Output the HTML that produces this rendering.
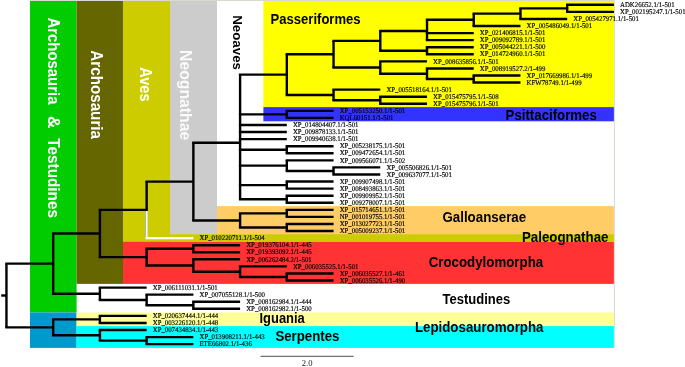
<!DOCTYPE html>
<html lang="en"><head><meta charset="utf-8"><title>Phylogenetic tree</title>
<style>
html,body{margin:0;padding:0;background:#fff;}
body{width:685px;height:367px;overflow:hidden;}
svg{display:block;will-change:transform;}
</style></head><body>
<svg width="685" height="367" viewBox="0 0 685 367">
<rect x="30" y="1" width="583.9" height="346.9" fill="#fff"/>
<path d="M30 0.5H614.4V347.9" fill="none" stroke="#d6dad0" stroke-width="1"/>
<rect x="30" y="1" width="46.60" height="311.40" fill="#00cc00"/>
<rect x="30" y="312.4" width="46.60" height="35.50" fill="#0099cc"/>
<rect x="76.6" y="1" width="46.40" height="282.90" fill="#666600"/>
<rect x="123" y="1" width="47.00" height="240.80" fill="#cccc00"/>
<rect x="123" y="234.1" width="490.90" height="7.70" fill="#cccc00"/>
<rect x="170" y="1" width="47.00" height="233.10" fill="#cccccc"/>
<rect x="263.4" y="1" width="350.50" height="106.10" fill="#ffff00"/>
<rect x="263.4" y="107.1" width="350.50" height="14.20" fill="#3333ff"/>
<rect x="217" y="206.1" width="396.90" height="28.00" fill="#ffcc66"/>
<rect x="123" y="241.8" width="490.90" height="42.10" fill="#ff3333"/>
<rect x="76.6" y="312.4" width="537.30" height="13.70" fill="#ffff99"/>
<rect x="76.6" y="326.1" width="537.30" height="21.80" fill="#00ffff"/>
<g stroke-width="2.4" stroke-linecap="butt" fill="none">
<line x1="1.2" y1="295.50" x2="6.45" y2="295.50" stroke="#000" stroke-linecap="butt"/>
<line x1="566.01" y1="4.80" x2="613.94" y2="4.80" stroke="#000"/>
<line x1="566.01" y1="11.87" x2="613.94" y2="11.87" stroke="#000"/>
<line x1="567.21" y1="4.80" x2="567.21" y2="11.87" stroke="#000"/>
<line x1="519.28" y1="8.34" x2="567.21" y2="8.34" stroke="#000"/>
<line x1="519.28" y1="18.94" x2="567.21" y2="18.94" stroke="#000"/>
<line x1="520.48" y1="8.34" x2="520.48" y2="18.94" stroke="#000"/>
<line x1="472.55" y1="13.64" x2="520.48" y2="13.64" stroke="#000"/>
<line x1="472.55" y1="26.01" x2="520.48" y2="26.01" stroke="#000"/>
<line x1="473.75" y1="13.64" x2="473.75" y2="26.01" stroke="#000"/>
<line x1="425.82" y1="19.82" x2="473.75" y2="19.82" stroke="#000"/>
<line x1="425.82" y1="33.08" x2="473.75" y2="33.08" stroke="#000"/>
<line x1="425.82" y1="40.15" x2="473.75" y2="40.15" stroke="#000"/>
<line x1="427.02" y1="19.82" x2="427.02" y2="40.15" stroke="#000"/>
<line x1="379.09" y1="31.02" x2="427.02" y2="31.02" stroke="#000"/>
<line x1="425.82" y1="47.22" x2="473.75" y2="47.22" stroke="#000"/>
<line x1="425.82" y1="54.29" x2="473.75" y2="54.29" stroke="#000"/>
<line x1="427.02" y1="47.22" x2="427.02" y2="54.29" stroke="#000"/>
<line x1="379.09" y1="50.75" x2="427.02" y2="50.75" stroke="#000"/>
<line x1="380.29" y1="31.02" x2="380.29" y2="50.75" stroke="#000"/>
<line x1="332.36" y1="40.89" x2="380.29" y2="40.89" stroke="#000"/>
<line x1="379.09" y1="61.36" x2="427.02" y2="61.36" stroke="#000"/>
<line x1="425.82" y1="68.43" x2="473.75" y2="68.43" stroke="#000"/>
<line x1="472.55" y1="75.50" x2="520.48" y2="75.50" stroke="#000"/>
<line x1="472.55" y1="82.57" x2="520.48" y2="82.57" stroke="#000"/>
<line x1="473.75" y1="75.50" x2="473.75" y2="82.57" stroke="#000"/>
<line x1="425.82" y1="79.03" x2="473.75" y2="79.03" stroke="#000"/>
<line x1="427.02" y1="68.43" x2="427.02" y2="79.03" stroke="#000"/>
<line x1="379.09" y1="73.73" x2="427.02" y2="73.73" stroke="#000"/>
<line x1="380.29" y1="61.36" x2="380.29" y2="73.73" stroke="#000"/>
<line x1="332.36" y1="67.55" x2="380.29" y2="67.55" stroke="#000"/>
<line x1="333.56" y1="40.89" x2="333.56" y2="67.55" stroke="#000"/>
<line x1="285.63" y1="54.22" x2="333.56" y2="54.22" stroke="#000"/>
<line x1="332.36" y1="89.64" x2="380.29" y2="89.64" stroke="#000"/>
<line x1="379.09" y1="96.71" x2="427.02" y2="96.71" stroke="#000"/>
<line x1="379.09" y1="103.78" x2="427.02" y2="103.78" stroke="#000"/>
<line x1="380.29" y1="96.71" x2="380.29" y2="103.78" stroke="#000"/>
<line x1="332.36" y1="100.25" x2="380.29" y2="100.25" stroke="#000"/>
<line x1="333.56" y1="89.64" x2="333.56" y2="100.25" stroke="#000"/>
<line x1="285.63" y1="94.94" x2="333.56" y2="94.94" stroke="#000"/>
<line x1="286.83" y1="54.22" x2="286.83" y2="94.94" stroke="#000"/>
<line x1="238.90" y1="74.58" x2="286.83" y2="74.58" stroke="#000"/>
<line x1="285.63" y1="110.85" x2="333.56" y2="110.85" stroke="#000"/>
<line x1="285.63" y1="117.92" x2="333.56" y2="117.92" stroke="#000"/>
<line x1="286.83" y1="110.85" x2="286.83" y2="117.92" stroke="#000"/>
<line x1="238.90" y1="114.39" x2="286.83" y2="114.39" stroke="#000"/>
<line x1="238.90" y1="124.99" x2="286.83" y2="124.99" stroke="#000"/>
<line x1="238.90" y1="132.06" x2="286.83" y2="132.06" stroke="#000"/>
<line x1="238.90" y1="139.13" x2="286.83" y2="139.13" stroke="#000"/>
<line x1="285.63" y1="146.20" x2="333.56" y2="146.20" stroke="#000"/>
<line x1="285.63" y1="153.27" x2="333.56" y2="153.27" stroke="#000"/>
<line x1="286.83" y1="146.20" x2="286.83" y2="153.27" stroke="#000"/>
<line x1="238.90" y1="149.74" x2="286.83" y2="149.74" stroke="#000"/>
<line x1="285.63" y1="160.34" x2="333.56" y2="160.34" stroke="#000"/>
<line x1="332.36" y1="167.41" x2="380.29" y2="167.41" stroke="#000"/>
<line x1="332.36" y1="174.48" x2="380.29" y2="174.48" stroke="#000"/>
<line x1="333.56" y1="167.41" x2="333.56" y2="174.48" stroke="#000"/>
<line x1="285.63" y1="170.95" x2="333.56" y2="170.95" stroke="#000"/>
<line x1="286.83" y1="160.34" x2="286.83" y2="170.95" stroke="#000"/>
<line x1="238.90" y1="165.64" x2="286.83" y2="165.64" stroke="#000"/>
<line x1="285.63" y1="181.55" x2="333.56" y2="181.55" stroke="#000"/>
<line x1="285.63" y1="188.62" x2="333.56" y2="188.62" stroke="#000"/>
<line x1="286.83" y1="181.55" x2="286.83" y2="188.62" stroke="#000"/>
<line x1="238.90" y1="185.09" x2="286.83" y2="185.09" stroke="#000"/>
<line x1="285.63" y1="195.69" x2="333.56" y2="195.69" stroke="#000"/>
<line x1="285.63" y1="202.76" x2="333.56" y2="202.76" stroke="#000"/>
<line x1="286.83" y1="195.69" x2="286.83" y2="202.76" stroke="#000"/>
<line x1="238.90" y1="199.23" x2="286.83" y2="199.23" stroke="#000"/>
<line x1="240.10" y1="74.58" x2="240.10" y2="199.23" stroke="#000"/>
<line x1="192.17" y1="142.76" x2="240.10" y2="142.76" stroke="#000"/>
<line x1="285.63" y1="209.83" x2="333.56" y2="209.83" stroke="#000"/>
<line x1="285.63" y1="216.90" x2="333.56" y2="216.90" stroke="#000"/>
<line x1="286.83" y1="209.83" x2="286.83" y2="216.90" stroke="#000"/>
<line x1="238.90" y1="213.37" x2="286.83" y2="213.37" stroke="#000"/>
<line x1="285.63" y1="223.97" x2="333.56" y2="223.97" stroke="#000"/>
<line x1="285.63" y1="231.04" x2="333.56" y2="231.04" stroke="#000"/>
<line x1="286.83" y1="223.97" x2="286.83" y2="231.04" stroke="#000"/>
<line x1="238.90" y1="227.51" x2="286.83" y2="227.51" stroke="#000"/>
<line x1="240.10" y1="213.37" x2="240.10" y2="227.51" stroke="#000"/>
<line x1="192.17" y1="220.44" x2="240.10" y2="220.44" stroke="#000"/>
<line x1="193.37" y1="142.76" x2="193.37" y2="220.44" stroke="#000"/>
<line x1="145.44" y1="181.60" x2="193.37" y2="181.60" stroke="#000"/>
<line x1="146.64" y1="181.60" x2="146.64" y2="238.11" stroke="#000"/>
<line x1="98.71" y1="209.85" x2="146.64" y2="209.85" stroke="#000"/>
<line x1="192.17" y1="245.18" x2="240.10" y2="245.18" stroke="#000"/>
<line x1="192.17" y1="252.25" x2="240.10" y2="252.25" stroke="#000"/>
<line x1="193.37" y1="245.18" x2="193.37" y2="252.25" stroke="#000"/>
<line x1="145.44" y1="248.72" x2="193.37" y2="248.72" stroke="#000"/>
<line x1="192.17" y1="259.32" x2="240.10" y2="259.32" stroke="#000"/>
<line x1="238.90" y1="266.39" x2="286.83" y2="266.39" stroke="#000"/>
<line x1="285.63" y1="273.46" x2="333.56" y2="273.46" stroke="#000"/>
<line x1="285.63" y1="280.53" x2="333.56" y2="280.53" stroke="#000"/>
<line x1="286.83" y1="273.46" x2="286.83" y2="280.53" stroke="#000"/>
<line x1="238.90" y1="277.00" x2="286.83" y2="277.00" stroke="#000"/>
<line x1="240.10" y1="266.39" x2="240.10" y2="277.00" stroke="#000"/>
<line x1="192.17" y1="271.69" x2="240.10" y2="271.69" stroke="#000"/>
<line x1="193.37" y1="259.32" x2="193.37" y2="271.69" stroke="#000"/>
<line x1="145.44" y1="265.51" x2="193.37" y2="265.51" stroke="#000"/>
<line x1="146.64" y1="248.72" x2="146.64" y2="265.51" stroke="#000"/>
<line x1="98.71" y1="257.11" x2="146.64" y2="257.11" stroke="#000"/>
<line x1="99.91" y1="209.85" x2="99.91" y2="257.11" stroke="#000"/>
<line x1="51.98" y1="233.48" x2="99.91" y2="233.48" stroke="#000"/>
<line x1="98.71" y1="287.60" x2="146.64" y2="287.60" stroke="#000"/>
<line x1="145.44" y1="294.67" x2="193.37" y2="294.67" stroke="#000"/>
<line x1="192.17" y1="301.74" x2="240.10" y2="301.74" stroke="#000"/>
<line x1="192.17" y1="308.81" x2="240.10" y2="308.81" stroke="#000"/>
<line x1="193.37" y1="301.74" x2="193.37" y2="308.81" stroke="#000"/>
<line x1="145.44" y1="305.27" x2="193.37" y2="305.27" stroke="#000"/>
<line x1="146.64" y1="294.67" x2="146.64" y2="305.27" stroke="#000"/>
<line x1="98.71" y1="299.97" x2="146.64" y2="299.97" stroke="#000"/>
<line x1="99.91" y1="287.60" x2="99.91" y2="299.97" stroke="#000"/>
<line x1="51.98" y1="293.79" x2="99.91" y2="293.79" stroke="#000"/>
<line x1="53.18" y1="233.48" x2="53.18" y2="293.79" stroke="#000"/>
<line x1="5.25" y1="263.63" x2="53.18" y2="263.63" stroke="#000"/>
<line x1="98.71" y1="315.88" x2="146.64" y2="315.88" stroke="#000"/>
<line x1="98.71" y1="322.95" x2="146.64" y2="322.95" stroke="#000"/>
<line x1="99.91" y1="315.88" x2="99.91" y2="322.95" stroke="#000"/>
<line x1="51.98" y1="319.42" x2="99.91" y2="319.42" stroke="#000"/>
<line x1="98.71" y1="330.02" x2="146.64" y2="330.02" stroke="#000"/>
<line x1="145.44" y1="337.09" x2="193.37" y2="337.09" stroke="#000"/>
<line x1="145.44" y1="344.16" x2="193.37" y2="344.16" stroke="#000"/>
<line x1="146.64" y1="337.09" x2="146.64" y2="344.16" stroke="#000"/>
<line x1="98.71" y1="340.62" x2="146.64" y2="340.62" stroke="#000"/>
<line x1="99.91" y1="330.02" x2="99.91" y2="340.62" stroke="#000"/>
<line x1="51.98" y1="335.32" x2="99.91" y2="335.32" stroke="#000"/>
<line x1="53.18" y1="319.42" x2="53.18" y2="335.32" stroke="#000"/>
<line x1="5.25" y1="327.37" x2="53.18" y2="327.37" stroke="#000"/>
<line x1="6.45" y1="263.63" x2="6.45" y2="327.37" stroke="#000"/>
<line x1="145.44" y1="238.11" x2="193.37" y2="238.11" stroke="#fff"/>
<line x1="146.64" y1="211.05" x2="146.64" y2="238.11" stroke="#fff"/>
</g>
<g font-family="'Liberation Serif', serif" font-size="7.1" fill="#000" stroke="#000" stroke-width="0.15" style="text-rendering:geometricPrecision">
<text x="620.04" y="7.00" textLength="54.59" lengthAdjust="spacingAndGlyphs">ADK26652.1/1-501</text>
<text x="620.04" y="14.07" textLength="65.55" lengthAdjust="spacingAndGlyphs">XP_002195247.1/1-501</text>
<text x="573.31" y="21.14" textLength="65.55" lengthAdjust="spacingAndGlyphs">XP_005427971.1/1-501</text>
<text x="526.58" y="28.21" textLength="65.55" lengthAdjust="spacingAndGlyphs">XP_005486049.1/1-501</text>
<text x="479.85" y="35.28" textLength="65.55" lengthAdjust="spacingAndGlyphs">XP_021406815.1/1-501</text>
<text x="479.85" y="42.35" textLength="65.55" lengthAdjust="spacingAndGlyphs">XP_009092789.1/1-501</text>
<text x="479.85" y="49.42" textLength="65.55" lengthAdjust="spacingAndGlyphs">XP_005044221.1/1-500</text>
<text x="479.85" y="56.49" textLength="65.55" lengthAdjust="spacingAndGlyphs">XP_014724960.1/1-501</text>
<text x="433.12" y="63.56" textLength="65.55" lengthAdjust="spacingAndGlyphs">XP_008635856.1/1-501</text>
<text x="479.85" y="70.63" textLength="65.55" lengthAdjust="spacingAndGlyphs">XP_008919527.2/1-499</text>
<text x="526.58" y="77.70" textLength="65.55" lengthAdjust="spacingAndGlyphs">XP_017669986.1/1-499</text>
<text x="526.58" y="84.77" textLength="54.96" lengthAdjust="spacingAndGlyphs">KFW78749.1/1-499</text>
<text x="386.39" y="91.84" textLength="65.55" lengthAdjust="spacingAndGlyphs">XP_005518164.1/1-501</text>
<text x="433.12" y="98.91" textLength="65.55" lengthAdjust="spacingAndGlyphs">XP_015475795.1/1-508</text>
<text x="433.12" y="105.98" textLength="65.55" lengthAdjust="spacingAndGlyphs">XP_015475796.1/1-501</text>
<text x="339.66" y="113.05" textLength="65.55" lengthAdjust="spacingAndGlyphs">XP_005153250.1/1-501</text>
<text x="339.66" y="120.12" textLength="53.83" lengthAdjust="spacingAndGlyphs">KQL60151.1/1-501</text>
<text x="292.93" y="127.19" textLength="65.55" lengthAdjust="spacingAndGlyphs">XP_014804407.1/1-501</text>
<text x="292.93" y="134.26" textLength="65.55" lengthAdjust="spacingAndGlyphs">XP_009878133.1/1-501</text>
<text x="292.93" y="141.33" textLength="65.55" lengthAdjust="spacingAndGlyphs">XP_009940638.1/1-501</text>
<text x="339.66" y="148.40" textLength="65.55" lengthAdjust="spacingAndGlyphs">XP_005238175.1/1-501</text>
<text x="339.66" y="155.47" textLength="65.55" lengthAdjust="spacingAndGlyphs">XP_009472654.1/1-501</text>
<text x="339.66" y="162.54" textLength="65.55" lengthAdjust="spacingAndGlyphs">XP_009566071.1/1-502</text>
<text x="386.39" y="169.61" textLength="65.55" lengthAdjust="spacingAndGlyphs">XP_005506826.1/1-501</text>
<text x="386.39" y="176.68" textLength="65.55" lengthAdjust="spacingAndGlyphs">XP_009637077.1/1-501</text>
<text x="339.66" y="183.75" textLength="65.55" lengthAdjust="spacingAndGlyphs">XP_009907498.1/1-501</text>
<text x="339.66" y="190.82" textLength="65.55" lengthAdjust="spacingAndGlyphs">XP_008493863.1/1-501</text>
<text x="339.66" y="197.89" textLength="65.55" lengthAdjust="spacingAndGlyphs">XP_009909952.1/1-501</text>
<text x="339.66" y="204.96" textLength="65.55" lengthAdjust="spacingAndGlyphs">XP_009278007.1/1-501</text>
<text x="339.66" y="212.03" textLength="65.55" lengthAdjust="spacingAndGlyphs">XP_015714651.1/1-501</text>
<text x="339.66" y="219.10" textLength="65.55" lengthAdjust="spacingAndGlyphs">NP_001019755.1/1-501</text>
<text x="339.66" y="226.17" textLength="65.55" lengthAdjust="spacingAndGlyphs">XP_013027723.1/1-501</text>
<text x="339.66" y="233.24" textLength="65.55" lengthAdjust="spacingAndGlyphs">XP_005009237.1/1-501</text>
<text x="199.47" y="240.31" textLength="65.29" lengthAdjust="spacingAndGlyphs">XP_010220711.1/1-504</text>
<text x="246.20" y="247.38" textLength="65.55" lengthAdjust="spacingAndGlyphs">XP_019376104.1/1-445</text>
<text x="246.20" y="254.45" textLength="65.55" lengthAdjust="spacingAndGlyphs">XP_019393092.1/1-445</text>
<text x="246.20" y="261.52" textLength="65.55" lengthAdjust="spacingAndGlyphs">XP_006262484.2/1-501</text>
<text x="292.93" y="268.59" textLength="65.55" lengthAdjust="spacingAndGlyphs">XP_006035525.1/1-501</text>
<text x="339.66" y="275.66" textLength="65.55" lengthAdjust="spacingAndGlyphs">XP_006035527.1/1-461</text>
<text x="339.66" y="282.73" textLength="65.55" lengthAdjust="spacingAndGlyphs">XP_006035526.1/1-490</text>
<text x="152.74" y="289.80" textLength="65.04" lengthAdjust="spacingAndGlyphs">XP_006111031.1/1-501</text>
<text x="199.47" y="296.87" textLength="65.55" lengthAdjust="spacingAndGlyphs">XP_007055128.1/1-500</text>
<text x="246.20" y="303.94" textLength="65.55" lengthAdjust="spacingAndGlyphs">XP_008162984.1/1-444</text>
<text x="246.20" y="311.01" textLength="65.55" lengthAdjust="spacingAndGlyphs">XP_008162982.1/1-500</text>
<text x="152.74" y="318.08" textLength="65.55" lengthAdjust="spacingAndGlyphs">XP_020637444.1/1-444</text>
<text x="152.74" y="325.15" textLength="65.55" lengthAdjust="spacingAndGlyphs">XP_003226120.1/1-448</text>
<text x="152.74" y="332.22" textLength="65.55" lengthAdjust="spacingAndGlyphs">XP_007434834.1/1-443</text>
<text x="199.47" y="339.29" textLength="65.29" lengthAdjust="spacingAndGlyphs">XP_013908211.1/1-443</text>
<text x="199.47" y="346.36" textLength="52.31" lengthAdjust="spacingAndGlyphs">ETE66802.1/1-436</text>
</g>
<line x1="260.5" y1="356.3" x2="353.7" y2="356.3" stroke="#222" stroke-width="0.8"/>
<text x="301.8" y="366.3" font-family="'Liberation Serif', serif" font-size="8.6" fill="#222">2.0</text>
<text x="270.6" y="23.7" font-family="'Liberation Sans', sans-serif" font-weight="bold" font-size="14" fill="#000" textLength="90.0" lengthAdjust="spacingAndGlyphs">Passeriformes</text>
<text x="505.6" y="119.8" font-family="'Liberation Sans', sans-serif" font-weight="bold" font-size="14" fill="#000" textLength="91.2" lengthAdjust="spacingAndGlyphs">Psittaciformes</text>
<text x="442.4" y="222.1" font-family="'Liberation Sans', sans-serif" font-weight="bold" font-size="14" fill="#000" textLength="83.8" lengthAdjust="spacingAndGlyphs">Galloanserae</text>
<text x="521.9" y="241.8" font-family="'Liberation Sans', sans-serif" font-weight="bold" font-size="14" fill="#000" textLength="86.6" lengthAdjust="spacingAndGlyphs">Paleognathae</text>
<text x="428.7" y="266.9" font-family="'Liberation Sans', sans-serif" font-weight="bold" font-size="14" fill="#000" textLength="114.5" lengthAdjust="spacingAndGlyphs">Crocodylomorpha</text>
<text x="442.6" y="303.5" font-family="'Liberation Sans', sans-serif" font-weight="bold" font-size="14" fill="#000" textLength="67.7" lengthAdjust="spacingAndGlyphs">Testudines</text>
<text x="414.9" y="331.7" font-family="'Liberation Sans', sans-serif" font-weight="bold" font-size="14" fill="#000" textLength="128.6" lengthAdjust="spacingAndGlyphs">Lepidosauromorpha</text>
<text x="259.5" y="322.6" font-family="'Liberation Sans', sans-serif" font-weight="bold" font-size="14.3" fill="#000" textLength="45.3" lengthAdjust="spacingAndGlyphs">Iguania</text>
<text x="275.4" y="340.8" font-family="'Liberation Sans', sans-serif" font-weight="bold" font-size="14" fill="#000" textLength="64.0" lengthAdjust="spacingAndGlyphs">Serpentes</text>
<text transform="translate(48.2,17.4) rotate(90)" x="0" y="0" font-family="'Liberation Sans', sans-serif" font-weight="bold" font-size="16.8" fill="#fff" textLength="87.1" lengthAdjust="spacingAndGlyphs">Archosauria</text>
<text transform="translate(48.2,116) rotate(90)" x="0" y="0" font-family="'Liberation Sans', sans-serif" font-weight="bold" font-size="16.8" fill="#fff" textLength="12.4" lengthAdjust="spacingAndGlyphs">&amp;</text>
<text transform="translate(48.2,138.3) rotate(90)" x="0" y="0" font-family="'Liberation Sans', sans-serif" font-weight="bold" font-size="16.8" fill="#fff" textLength="79.7" lengthAdjust="spacingAndGlyphs">Testudines</text>
<text transform="translate(91.4,50.3) rotate(90)" x="0" y="0" font-family="'Liberation Sans', sans-serif" font-weight="bold" font-size="16.8" fill="#fff" textLength="88.7" lengthAdjust="spacingAndGlyphs">Archosauria</text>
<text transform="translate(139.5,67.3) rotate(90)" x="0" y="0" font-family="'Liberation Sans', sans-serif" font-weight="bold" font-size="17" fill="#fff" textLength="34.2" lengthAdjust="spacingAndGlyphs">Aves</text>
<text transform="translate(179.5,50) rotate(90)" x="0" y="0" font-family="'Liberation Sans', sans-serif" font-weight="bold" font-size="17" fill="#fafafa" textLength="90.3" lengthAdjust="spacingAndGlyphs">Neognathae</text>
<text transform="translate(232.6,15.2) rotate(90)" x="0" y="0" font-family="'Liberation Sans', sans-serif" font-weight="bold" font-size="13.3" fill="#000" textLength="54.8" lengthAdjust="spacingAndGlyphs">Neoaves</text>
</svg>
</body></html>
